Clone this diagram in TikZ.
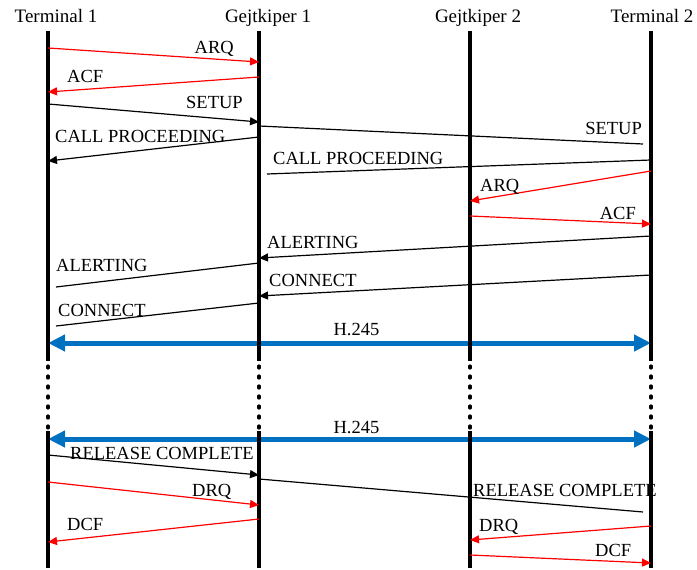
\documentclass[tikz,border=0pt]{standalone}
\usepackage{fontspec}
\setmainfont{Liberation Serif}
\usetikzlibrary{arrows.meta}
\definecolor{h245blue}{RGB}{0,112,192}
\tikzset{
  lbl/.style={font=\fontsize{18.5bp}{22bp}\selectfont, inner sep=0pt},
  head/.style={font=\fontsize{19bp}{22bp}\selectfont, inner sep=0pt, anchor=base},
  life/.style={line width=3.2bp},
  lifedot/.style={line width=3.2bp, dash pattern=on 2bp off 8bp, line cap=round},
  msg/.style={line width=1.2bp, -{Triangle[length=9bp,width=8bp]}},
  msgline/.style={line width=1.2bp},
  ras/.style={msg, red},
  h245/.style={line width=5bp, h245blue,
    {Triangle[length=17bp,width=16bp]}-{Triangle[length=17bp,width=16bp]}},
}
\begin{document}
\begin{tikzpicture}[x=1bp, y=-1bp]
\useasboundingbox (0,0) rectangle (697,570);

% lifeline positions
\coordinate (T1) at (48,0);
\coordinate (G1) at (259,0);
\coordinate (G2) at (470,0);
\coordinate (T2) at (651,0);

% headers
\node[head] (t1lab) at (56,22.5) {Terminal 1};
\node[head] (g1lab) at (268,22.5) {Gejtkiper 1};
\node[head] (g2lab) at (478,22.5) {Gejtkiper 2};
\node[head] (t2lab) at (652,22.5) {Terminal 2};

% H.245 channels
\draw[h245] (T1 |- 0,343) -- (T2 |- 0,343);
\node[lbl, anchor=base] (h1) at (356.5,335.5) {H.245};
\draw[h245] (T1 |- 0,439) -- (T2 |- 0,439);
\node[lbl, anchor=base] (h2) at (356.5,433) {H.245};

% lifelines
\foreach \p in {T1,G1,G2,T2}{
  \draw[life] (\p |- 0,31) -- (\p |- 0,361);
  \draw[lifedot] (\p |- 0,366) -- (\p |- 0,428);
  \draw[life] (\p |- 0,431) -- (\p |- 0,568);
}

% admission
\draw[ras] (T1 |- 0,48) -- (G1 |- 0,62);
\node[lbl, anchor=base east] (arq1) at (234,54) {ARQ};
\draw[ras] (G1 |- 0,77) -- (T1 |- 0,92);
\node[lbl, anchor=base west] (acf1) at (67,83) {ACF};

% setup
\draw[msg] (T1 |- 0,104) -- (G1 |- 0,122);
\node[lbl, anchor=base west] (setup1) at (186,109) {SETUP};
\draw[msgline] (G1 |- 0,126) -- ([xshift=-8bp]T2 |- 0,144);
\node[lbl, anchor=base east] (setup2) at (642,135) {SETUP};

% call proceeding
\draw[msg] (G1 |- 0,137) -- (T1 |- 0,161);
\node[lbl, anchor=base west] (cp1) at (55,143) {CALL PROCEEDING};
\draw[msgline] (T2 |- 0,160) -- ([xshift=8bp]G1 |- 0,174);
\node[lbl, anchor=base west] (cp2) at (273,165) {CALL PROCEEDING};

% admission on the far side
\draw[ras] (T2 |- 0,171) -- (G2 |- 0,201);
\node[lbl, anchor=base west] (arq2) at (480,191.5) {ARQ};
\draw[ras] (G2 |- 0,216) -- (T2 |- 0,224);
\node[lbl, anchor=base east] (acf2) at (636,219) {ACF};

% alerting
\draw[msg] (T2 |- 0,236) -- (G1 |- 0,258);
\node[lbl, anchor=base west] (al2) at (267,248) {ALERTING};
\draw[msgline] (G1 |- 0,263) -- ([xshift=8bp]T1 |- 0,287);
\node[lbl, anchor=base west] (al1) at (56,271) {ALERTING};

% connect
\draw[msg] (T2 |- 0,275) -- (G1 |- 0,296);
\node[lbl, anchor=base west] (con2) at (269,286) {CONNECT};
\draw[msgline] (G1 |- 0,303) -- ([xshift=8bp]T1 |- 0,326);
\node[lbl, anchor=base west] (con1) at (58,316) {CONNECT};

% release
\draw[msg] (T1 |- 0,455) -- (G1 |- 0,475);
\node[lbl, anchor=base west] (rc1) at (70,459) {RELEASE COMPLETE};
\draw[msgline] (G1 |- 0,479) -- ([xshift=-8bp]T2 |- 0,512);
\node[lbl, anchor=base west] (rc2) at (473,496) {RELEASE COMPLETE};

% disengage
\draw[ras] (T1 |- 0,482) -- (G1 |- 0,505);
\node[lbl, anchor=base west] (drq1) at (192,496) {DRQ};
\draw[ras] (G1 |- 0,519) -- (T1 |- 0,542);
\node[lbl, anchor=base west] (dcf1) at (67,530.5) {DCF};
\draw[ras] (T2 |- 0,526) -- (G2 |- 0,540);
\node[lbl, anchor=base west] (drq2) at (479,531.5) {DRQ};
\draw[ras] (G2 |- 0,555) -- (T2 |- 0,563);
\node[lbl, anchor=base west] (dcf2) at (595,556) {DCF};
\end{tikzpicture}
\end{document}
